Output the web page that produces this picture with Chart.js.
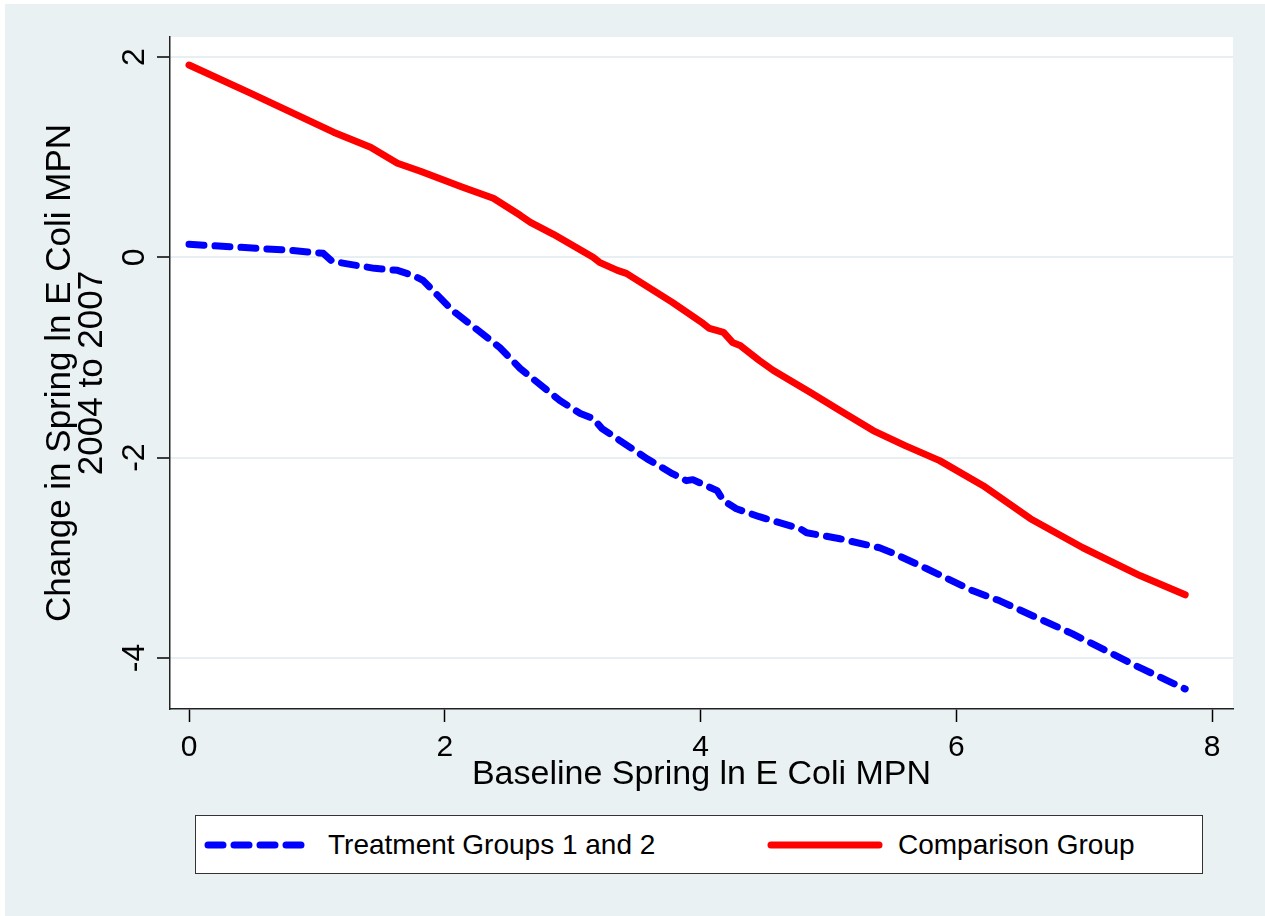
<!DOCTYPE html>
<html>
<head>
<meta charset="utf-8">
<script src="https://cdn.jsdelivr.net/npm/chart.js@4.4.1/dist/chart.umd.min.js"></script>
<style>
  html, body { margin: 0; padding: 0; background: #ffffff; }
  #wrap { position: relative; width: 1265px; height: 916px; }
  #c { position: absolute; left: 0; top: 0; }
  #legend {
    position: absolute; left: 195px; top: 815px; width: 1006px; height: 57px;
    border: 1.5px solid #333; background: #fff;
    font-family: "Liberation Sans", Arial, sans-serif; font-size: 28px; color: #000;
  }
  .item { position: absolute; top: 0; height: 57px; display: flex; align-items: center; }
  .item svg { display: block; }
  .item span { margin-left: 15px; white-space: nowrap; }
</style>
</head>
<body>
<div id="wrap">
  <canvas id="c" width="1265" height="916"></canvas>
  <div id="legend"></div>
</div>
<script>
// ---- data ----
const treatX = [0, 0.40, 0.79, 1.05, 1.12, 1.26, 1.45, 1.63, 1.75, 1.83, 2.06, 2.43, 2.59, 2.90, 3.06, 3.16, 3.23, 3.58, 3.78, 3.89, 3.94, 4.13, 4.18, 4.28, 4.46, 4.78, 4.83, 5.09, 5.40, 5.50, 5.77, 6.13, 6.34, 6.91, 7.44, 7.79];
const treatY = [0.13, 0.10, 0.07, 0.04, -0.04, -0.07, -0.11, -0.13, -0.18, -0.23, -0.53, -0.90, -1.11, -1.43, -1.56, -1.61, -1.71, -2.01, -2.16, -2.23, -2.22, -2.33, -2.43, -2.51, -2.59, -2.71, -2.75, -2.81, -2.90, -2.95, -3.11, -3.33, -3.43, -3.76, -4.10, -4.31];
const compX = [0, 0.48, 1.13, 1.42, 1.63, 1.81, 2.14, 2.38, 2.59, 2.67, 2.85, 3.16, 3.21, 3.35, 3.42, 3.78, 4.02, 4.07, 4.18, 4.25, 4.31, 4.46, 4.57, 4.86, 5.09, 5.35, 5.60, 5.87, 6.21, 6.58, 6.99, 7.44, 7.79];
const compY = [1.92, 1.64, 1.25, 1.10, 0.94, 0.86, 0.70, 0.59, 0.42, 0.35, 0.23, 0.00, -0.05, -0.13, -0.16, -0.45, -0.66, -0.71, -0.75, -0.85, -0.88, -1.03, -1.13, -1.35, -1.53, -1.73, -1.88, -2.03, -2.28, -2.61, -2.90, -3.18, -3.37];
const seriesNames = ["Treatment Groups 1 and 2", "Comparison Group"];
const seriesColors = ["#0000FF", "#FF0000"];
const xTicks = [0, 2, 4, 6, 8];
const yTicks = [-4, -2, 0, 2];
const xTitle = "Baseline Spring ln E Coli MPN";
const yTitle = ["Change in Spring ln E Coli MPN", "2004 to 2007"];

const FONT = '"Liberation Sans", Arial, sans-serif';
const BG = '#EAF1F3';
const DASH = [15, 11];

const toPts = (xs, ys) => xs.map((x, i) => ({x: x, y: ys[i]}));

const bgPlugin = {
  id: 'bg',
  beforeDraw(chart) {
    const ctx = chart.ctx, a = chart.chartArea;
    ctx.save();
    ctx.fillStyle = '#ffffff';
    ctx.fillRect(0, 0, chart.width, chart.height);
    ctx.fillStyle = BG;
    ctx.fillRect(5, 4, chart.width - 5, chart.height - 4);
    ctx.fillStyle = '#ffffff';
    ctx.fillRect(a.left, a.top, a.right - a.left, a.bottom - a.top);
    ctx.restore();
  }
};

const yLabelPlugin = {
  id: 'ylabels',
  afterDraw(chart) {
    const s = chart.scales.y, ctx = chart.ctx;
    ctx.save();
    ctx.fillStyle = '#000';
    ctx.font = '32px ' + FONT;
    ctx.textAlign = 'center';
    ctx.textBaseline = 'middle';
    s.ticks.forEach(t => {
      const py = s.getPixelForValue(t.value);
      ctx.save();
      ctx.translate(135, py);
      ctx.rotate(-Math.PI / 2);
      ctx.fillText(String(t.value), 0, 0);
      ctx.restore();
    });
    ctx.restore();
  }
};

new Chart(document.getElementById('c'), {
  type: 'line',
  data: {
    datasets: [
      {
        label: seriesNames[1], data: toPts(compX, compY),
        borderColor: seriesColors[1], borderWidth: 7,
        borderCapStyle: 'round', borderJoinStyle: 'round',
        pointRadius: 0, tension: 0, fill: false
      },
      {
        label: seriesNames[0], data: toPts(treatX, treatY),
        borderColor: seriesColors[0], borderWidth: 7, borderDash: DASH,
        borderCapStyle: 'round', borderJoinStyle: 'round',
        pointRadius: 0, tension: 0, fill: false
      }
    ]
  },
  options: {
    responsive: false,
    animation: false,
    devicePixelRatio: 1,
    layout: { padding: { left: 0, top: 37, right: 32, bottom: 117 } },
    plugins: { legend: { display: false }, tooltip: { enabled: false } },
    scales: {
      x: {
        type: 'linear', min: -0.1486, max: 8.164,
        afterBuildTicks: s => { s.ticks = xTicks.map(v => ({value: v})); },
        afterFit: s => { s.height = 90; },
        grid: { drawOnChartArea: false, drawTicks: true, tickLength: 13, tickColor: '#000', tickWidth: 1.5 },
        border: { color: '#222', width: 1.5 },
        ticks: { color: '#000', font: { family: FONT, size: 30 }, padding: 8, maxRotation: 0 },
        title: { display: true, text: xTitle, color: '#000', font: { family: FONT, size: 34, lineHeight: '34px' }, padding: { top: 0, bottom: 7 } }
      },
      y: {
        type: 'linear', min: -4.51, max: 2.2,
        afterBuildTicks: s => { s.ticks = yTicks.map(v => ({value: v})); },
        afterFit: s => { s.width = 170; },
        grid: { color: '#E8EFF2', lineWidth: 2, drawTicks: true, tickLength: 13, tickColor: '#000', tickWidth: 1.5 },
        border: { color: '#222', width: 1.5 },
        ticks: { display: false },
        title: { display: true, text: yTitle, color: '#000', font: { family: FONT, size: 35, lineHeight: '32px' }, padding: { top: 44, bottom: 0 } }
      }
    }
  },
  plugins: [bgPlugin, yLabelPlugin]
});

// ---- HTML legend ----
(function () {
  const lg = document.getElementById('legend');
  const items = [
    { left: 8, width: 109, color: seriesColors[0], dash: DASH.join(' '), name: seriesNames[0] },
    { left: 571, width: 116, color: seriesColors[1], dash: null, name: seriesNames[1] }
  ];
  items.forEach(it => {
    const d = document.createElement('div');
    d.className = 'item';
    d.style.left = it.left + 'px';
    const w = it.width;
    const svgNS = 'http://www.w3.org/2000/svg';
    const svg = document.createElementNS(svgNS, 'svg');
    svg.setAttribute('width', w); svg.setAttribute('height', 12);
    const ln = document.createElementNS(svgNS, 'line');
    ln.setAttribute('x1', 4); ln.setAttribute('x2', w - 4);
    ln.setAttribute('y1', 6); ln.setAttribute('y2', 6);
    ln.setAttribute('stroke', it.color); ln.setAttribute('stroke-width', 7);
    ln.setAttribute('stroke-linecap', 'round');
    if (it.dash) ln.setAttribute('stroke-dasharray', it.dash);
    svg.appendChild(ln);
    const sp = document.createElement('span');
    sp.textContent = it.name;
    d.appendChild(svg); d.appendChild(sp);
    lg.appendChild(d);
  });
})();
</script>
</body>
</html>
